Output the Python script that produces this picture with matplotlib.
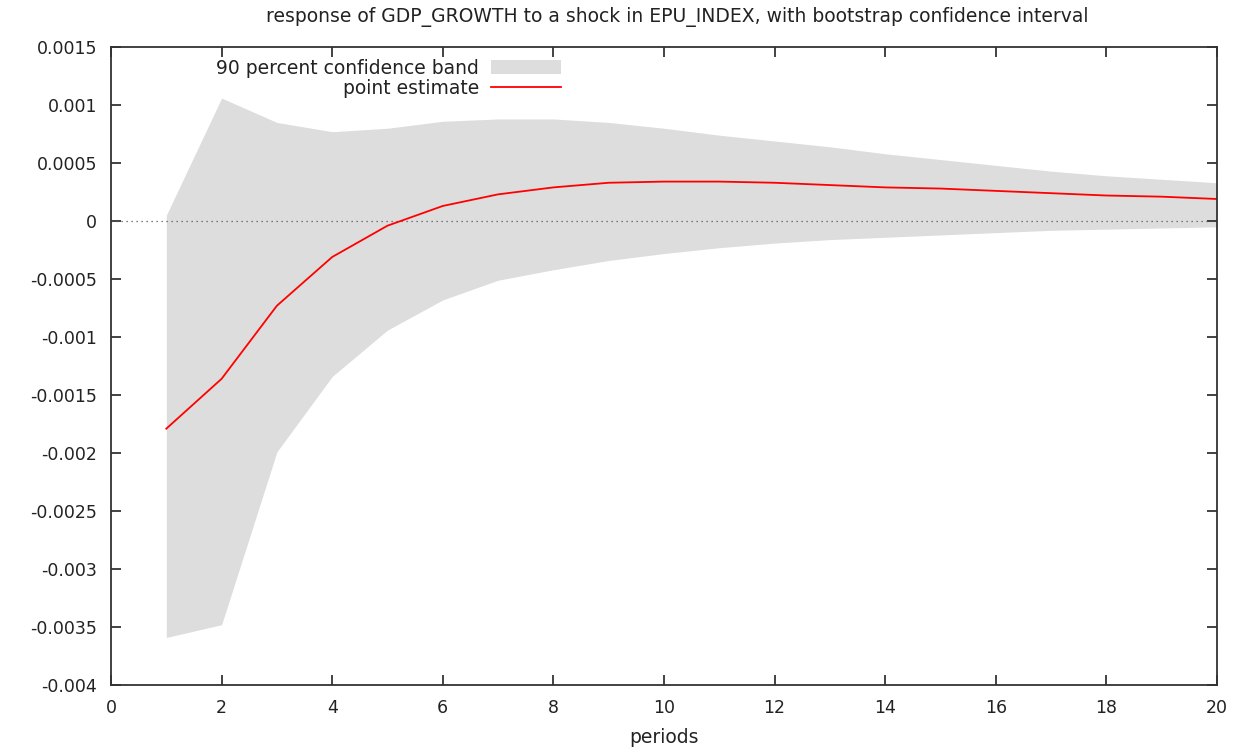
import numpy as np
import matplotlib.pyplot as plt
from matplotlib.patches import Patch
from matplotlib.lines import Line2D

periods = np.arange(1, 21)
point = [-0.00179, -0.00136, -0.00073, -0.00031, -0.00004, 0.00013, 0.00023, 0.00029, 0.00033, 0.00034,
         0.00034, 0.00033, 0.00031, 0.00029, 0.00028, 0.00026, 0.00024, 0.00022, 0.00021, 0.00019]
upper = [0.00005, 0.00106, 0.00085, 0.00077, 0.00080, 0.00086, 0.00088, 0.00088, 0.00085, 0.00080,
         0.00074, 0.00069, 0.00064, 0.00058, 0.00053, 0.00048, 0.00043, 0.00039, 0.00036, 0.00033]
lower = [-0.00359, -0.00348, -0.00199, -0.00134, -0.00094, -0.00068, -0.00051, -0.00042, -0.00034, -0.00028,
         -0.00023, -0.00019, -0.00016, -0.00014, -0.00012, -0.00010, -0.00008, -0.00007, -0.00006, -0.00005]
yticks = [0.0015, 0.001, 0.0005, 0, -0.0005, -0.001, -0.0015, -0.002, -0.0025, -0.003, -0.0035, -0.004]
ylabels = ['0.0015', '0.001', '0.0005', '0', '-0.0005', '-0.001', '-0.0015', '-0.002',
           '-0.0025', '-0.003', '-0.0035', '-0.004']

fs = 13.5   # title / legend / axis label
tfs = 12.5  # tick labels
txt = '#222222'

fig = plt.figure(figsize=(12.43, 7.49), dpi=100)
ax = fig.add_axes([0.0893, 0.0854, 0.8898, 0.8518])

ax.fill_between(periods, lower, upper, color='#dddddd', lw=0)
ax.plot([0, 20], [0, 0], color='#555555', ls=(0, (1, 3)), lw=0.9)
ax.plot(periods, point, color='#ff0000', lw=1.3)

ax.set_xlim(0, 20)
ax.set_ylim(-0.004, 0.0015)
ax.set_xticks(range(0, 21, 2))
ax.set_yticks(yticks)
ax.set_yticklabels(ylabels)
ax.tick_params(direction='in', top=True, right=True, length=7, width=1.2, labelsize=tfs, colors=txt, pad=10)
for s in ax.spines.values():
    s.set_linewidth(1.3)
    s.set_color('#333333')

ax.set_xlabel('periods', fontsize=fs, color=txt, labelpad=8)
fig.text(0.545, 0.977, 'response of GDP_GROWTH to a shock in EPU_INDEX, with bootstrap confidence interval',
         fontsize=fs, color=txt, ha='center', va='center')

handles = [Patch(facecolor='#dddddd', edgecolor='none'), Line2D([], [], color='#ff0000', lw=1.3)]
ax.legend(handles, ['90 percent confidence band', 'point estimate'], markerfirst=False, frameon=False,
          loc='upper right', bbox_to_anchor=(0.422, 1.008), fontsize=fs, handlelength=3.73,
          handleheight=0.8, labelspacing=0.08, handletextpad=0.64, labelcolor=txt)

fig.savefig('out.png', dpi=100)
